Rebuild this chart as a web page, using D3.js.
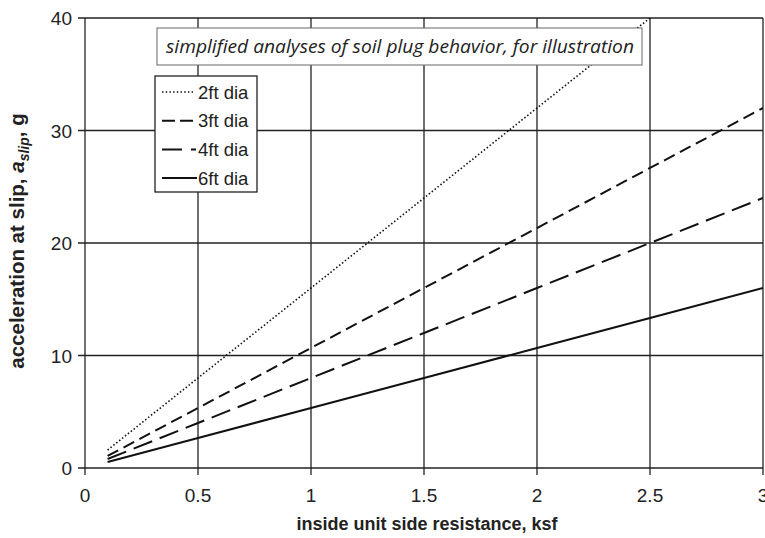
<!DOCTYPE html>
<html>
<head>
<meta charset="utf-8">
<script src="https://cdn.jsdelivr.net/npm/d3@7"></script>
<style>
  body { margin: 0; background: #fff; }
  text { font-family: "Liberation Sans", Arial, sans-serif; fill: #222; }
</style>
</head>
<body>
<svg id="chart" width="765" height="538"></svg>
<script>
'use strict';

// data
var resistance = [0.1, 0.5, 1, 1.5, 2, 2.5, 3];
var accel2ft = [1.6, 8, 16, 24, 32, 40, 48];
var accel3ft = [1.07, 5.33, 10.67, 16, 21.33, 26.67, 32];
var accel4ft = [0.8, 4, 8, 12, 16, 20, 24];
var accel6ft = [0.53, 2.67, 5.33, 8, 10.67, 13.33, 16];

var seriesNames = ['2ft dia', '3ft dia', '4ft dia', '6ft dia'];
var xTicks = [0, 0.5, 1, 1.5, 2, 2.5, 3];
var yTicks = [0, 10, 20, 30, 40];

var series = [
    { name: seriesNames[0], values: accel2ft, dash: '1.5,2.2', width: 1.6 },
    { name: seriesNames[1], values: accel3ft, dash: '12,6', width: 2 },
    { name: seriesNames[2], values: accel4ft, dash: '20,8', width: 2 },
    { name: seriesNames[3], values: accel6ft, dash: null, width: 2 }
];

var margin = { top: 18, left: 85, right: 2, bottom: 70 };
var width = 765, height = 538;

var svg = d3.select('#chart');

var x = d3.scaleLinear().domain([0, 3]).range([margin.left, width - margin.right]);
var y = d3.scaleLinear().domain([0, 40]).range([height - margin.bottom, margin.top]);

// plot clip
svg.append('clipPath').attr('id', 'plot-clip')
    .append('rect')
    .attr('x', x(0)).attr('y', y(40))
    .attr('width', x(3) - x(0)).attr('height', y(0) - y(40));

// gridlines
var grid = svg.append('g').attr('stroke', '#222').attr('stroke-width', 1.3);

grid.selectAll('line.v')
    .data(xTicks)
    .enter().append('line')
    .attr('x1', d => x(d)).attr('x2', d => x(d))
    .attr('y1', y(40)).attr('y2', y(0) + 7);

grid.selectAll('line.h')
    .data(yTicks)
    .enter().append('line')
    .attr('x1', x(0) - 7).attr('x2', x(3))
    .attr('y1', d => y(d)).attr('y2', d => y(d));

// tick labels
svg.append('g').selectAll('text')
    .data(xTicks)
    .enter().append('text')
    .attr('x', d => x(d))
    .attr('y', y(0) + 34)
    .attr('text-anchor', 'middle')
    .style('font-size', '19px')
    .text(d => d);

svg.append('g').selectAll('text')
    .data(yTicks)
    .enter().append('text')
    .attr('x', x(0) - 13)
    .attr('y', d => y(d) + 7)
    .attr('text-anchor', 'end')
    .style('font-size', '19px')
    .text(d => d);

// axis titles
svg.append('text')
    .attr('x', (x(0) + x(3)) / 2 + 3)
    .attr('y', 530)
    .attr('text-anchor', 'middle')
    .style('font-size', '18px')
    .style('font-weight', 'bold')
    .text('inside unit side resistance, ksf');

var yTitle = svg.append('text')
    .attr('transform', 'translate(24,241) rotate(-90)')
    .attr('text-anchor', 'middle')
    .style('font-size', '20.5px')
    .style('font-weight', 'bold');
yTitle.append('tspan').text('acceleration at slip, ');
yTitle.append('tspan').style('font-style', 'italic').text('a');
yTitle.append('tspan').style('font-style', 'italic').style('font-size', '14px').attr('dy', 5).text('slip');
yTitle.append('tspan').attr('dy', -5).text(', g');

// lines
var line = d3.line()
    .x((d, i) => x(resistance[i]))
    .y(d => y(d));

svg.append('g')
    .attr('clip-path', 'url(#plot-clip)')
    .selectAll('path')
    .data(series)
    .enter().append('path')
    .attr('fill', 'none')
    .attr('stroke', '#111')
    .attr('stroke-width', d => d.width)
    .attr('stroke-dasharray', d => d.dash)
    .attr('d', d => line(d.values));

// title box
var note = svg.append('g');
note.append('rect')
    .attr('x', 157).attr('y', 28)
    .attr('width', 485).attr('height', 37)
    .attr('fill', '#fff')
    .attr('stroke', '#666').attr('stroke-width', 1);
note.append('text')
    .attr('x', 400).attr('y', 53)
    .attr('text-anchor', 'middle')
    .attr('textLength', 468)
    .attr('lengthAdjust', 'spacingAndGlyphs')
    .style('font-family', '"Open Sans", sans-serif')
    .style('font-style', 'italic')
    .style('font-size', '18.5px')
    .text('simplified analyses of soil plug behavior, for illustration');

// legend
var legend = svg.append('g');
legend.append('rect')
    .attr('x', 155).attr('y', 76)
    .attr('width', 102).attr('height', 116)
    .attr('fill', '#fff')
    .attr('stroke', '#222').attr('stroke-width', 1.3);

var legendDash = ['1.5,2.2', '13,5', '20,9', null];
var legendLineEnd = [193, 193, 196, 197];

var rows = legend.selectAll('g.row')
    .data(series)
    .enter().append('g')
    .attr('transform', (d, i) => 'translate(0,' + (92 + i * 28.7) + ')');

rows.append('line')
    .attr('x1', 162).attr('x2', (d, i) => legendLineEnd[i])
    .attr('y1', 0).attr('y2', 0)
    .attr('stroke', '#111')
    .attr('stroke-width', d => d.width)
    .attr('stroke-dasharray', (d, i) => legendDash[i]);

rows.append('text')
    .attr('x', 198)
    .attr('y', 6.5)
    .style('font-size', '18.5px')
    .text(d => d.name);
</script>
</body>
</html>
